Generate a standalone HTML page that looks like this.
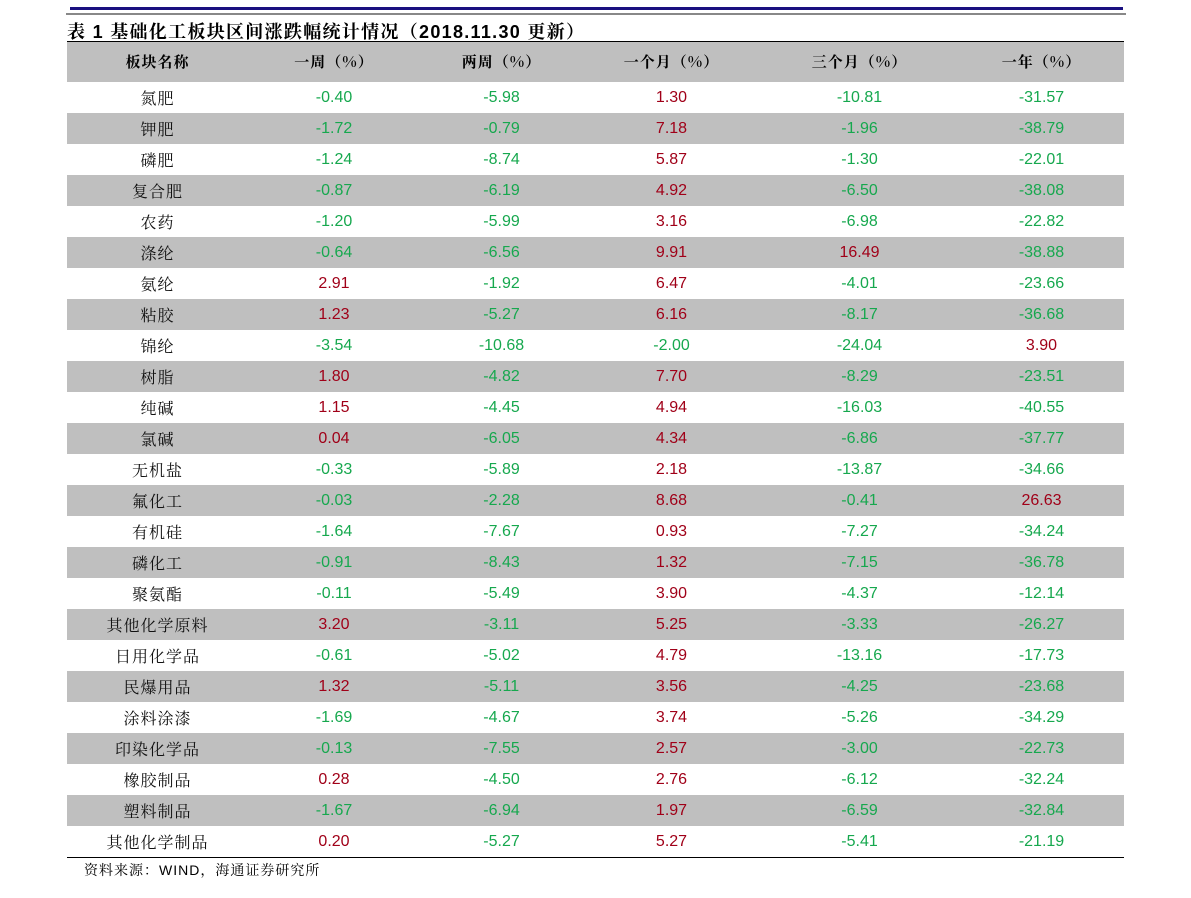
<!DOCTYPE html>
<html><head><meta charset="utf-8">
<style>
html,body{margin:0;padding:0;background:#fff;}
body{width:1191px;height:898px;position:relative;overflow:hidden;font-family:"Liberation Sans","Noto Sans CJK SC",sans-serif;}
.blue{position:absolute;left:70px;top:7px;width:1053px;height:3px;background:#1a1080;}
.grayl{position:absolute;left:66px;top:13px;width:1060px;height:2px;background:#888;}
.title{position:absolute;left:67px;top:18px;font-size:18px;letter-spacing:1.3px;font-weight:bold;font-family:"Liberation Sans","Noto Serif CJK SC",serif;white-space:nowrap;}
.tl{position:absolute;left:67px;top:41px;width:1057px;height:1px;background:#000;}
table{position:absolute;left:67px;top:42px;width:1057px;border-collapse:collapse;table-layout:fixed;}
td{padding:0;text-align:center;height:31px;font-size:16px;}
tr.h td{height:38px;background:#bfbfbf;font-family:"Noto Serif CJK SC",serif;font-weight:bold;font-size:15px;letter-spacing:1px;padding-bottom:2px;}
tr.g td{background:#bfbfbf;}
td.n{font-family:"Noto Serif CJK SC",serif;font-size:16px;letter-spacing:1px;color:#111;}
.r{color:#a00018;}
.gr{color:#16a84e;}
.bl{position:absolute;left:67px;top:857px;width:1057px;height:1px;background:#000;}
.src{position:absolute;left:84px;top:860px;font-size:14px;letter-spacing:1px;font-family:"Liberation Sans","Noto Serif CJK SC",serif;}
</style></head><body>
<div class="blue"></div><div class="grayl"></div>
<div class="title">表 1 基础化工板块区间涨跌幅统计情况（2018.11.30 更新）</div>
<div class="tl"></div>
<table>
<colgroup><col style="width:181px"><col style="width:172px"><col style="width:163px"><col style="width:177px"><col style="width:199px"><col style="width:165px"></colgroup>
<tr class="h"><td>板块名称</td><td>一周（%）</td><td>两周（%）</td><td>一个月（%）</td><td>三个月（%）</td><td>一年（%）</td></tr>
<tr><td class="n">氮肥</td><td class="gr">-0.40</td><td class="gr">-5.98</td><td class="r">1.30</td><td class="gr">-10.81</td><td class="gr">-31.57</td></tr>
<tr class="g"><td class="n">钾肥</td><td class="gr">-1.72</td><td class="gr">-0.79</td><td class="r">7.18</td><td class="gr">-1.96</td><td class="gr">-38.79</td></tr>
<tr><td class="n">磷肥</td><td class="gr">-1.24</td><td class="gr">-8.74</td><td class="r">5.87</td><td class="gr">-1.30</td><td class="gr">-22.01</td></tr>
<tr class="g"><td class="n">复合肥</td><td class="gr">-0.87</td><td class="gr">-6.19</td><td class="r">4.92</td><td class="gr">-6.50</td><td class="gr">-38.08</td></tr>
<tr><td class="n">农药</td><td class="gr">-1.20</td><td class="gr">-5.99</td><td class="r">3.16</td><td class="gr">-6.98</td><td class="gr">-22.82</td></tr>
<tr class="g"><td class="n">涤纶</td><td class="gr">-0.64</td><td class="gr">-6.56</td><td class="r">9.91</td><td class="r">16.49</td><td class="gr">-38.88</td></tr>
<tr><td class="n">氨纶</td><td class="r">2.91</td><td class="gr">-1.92</td><td class="r">6.47</td><td class="gr">-4.01</td><td class="gr">-23.66</td></tr>
<tr class="g"><td class="n">粘胶</td><td class="r">1.23</td><td class="gr">-5.27</td><td class="r">6.16</td><td class="gr">-8.17</td><td class="gr">-36.68</td></tr>
<tr><td class="n">锦纶</td><td class="gr">-3.54</td><td class="gr">-10.68</td><td class="gr">-2.00</td><td class="gr">-24.04</td><td class="r">3.90</td></tr>
<tr class="g"><td class="n">树脂</td><td class="r">1.80</td><td class="gr">-4.82</td><td class="r">7.70</td><td class="gr">-8.29</td><td class="gr">-23.51</td></tr>
<tr><td class="n">纯碱</td><td class="r">1.15</td><td class="gr">-4.45</td><td class="r">4.94</td><td class="gr">-16.03</td><td class="gr">-40.55</td></tr>
<tr class="g"><td class="n">氯碱</td><td class="r">0.04</td><td class="gr">-6.05</td><td class="r">4.34</td><td class="gr">-6.86</td><td class="gr">-37.77</td></tr>
<tr><td class="n">无机盐</td><td class="gr">-0.33</td><td class="gr">-5.89</td><td class="r">2.18</td><td class="gr">-13.87</td><td class="gr">-34.66</td></tr>
<tr class="g"><td class="n">氟化工</td><td class="gr">-0.03</td><td class="gr">-2.28</td><td class="r">8.68</td><td class="gr">-0.41</td><td class="r">26.63</td></tr>
<tr><td class="n">有机硅</td><td class="gr">-1.64</td><td class="gr">-7.67</td><td class="r">0.93</td><td class="gr">-7.27</td><td class="gr">-34.24</td></tr>
<tr class="g"><td class="n">磷化工</td><td class="gr">-0.91</td><td class="gr">-8.43</td><td class="r">1.32</td><td class="gr">-7.15</td><td class="gr">-36.78</td></tr>
<tr><td class="n">聚氨酯</td><td class="gr">-0.11</td><td class="gr">-5.49</td><td class="r">3.90</td><td class="gr">-4.37</td><td class="gr">-12.14</td></tr>
<tr class="g"><td class="n">其他化学原料</td><td class="r">3.20</td><td class="gr">-3.11</td><td class="r">5.25</td><td class="gr">-3.33</td><td class="gr">-26.27</td></tr>
<tr><td class="n">日用化学品</td><td class="gr">-0.61</td><td class="gr">-5.02</td><td class="r">4.79</td><td class="gr">-13.16</td><td class="gr">-17.73</td></tr>
<tr class="g"><td class="n">民爆用品</td><td class="r">1.32</td><td class="gr">-5.11</td><td class="r">3.56</td><td class="gr">-4.25</td><td class="gr">-23.68</td></tr>
<tr><td class="n">涂料涂漆</td><td class="gr">-1.69</td><td class="gr">-4.67</td><td class="r">3.74</td><td class="gr">-5.26</td><td class="gr">-34.29</td></tr>
<tr class="g"><td class="n">印染化学品</td><td class="gr">-0.13</td><td class="gr">-7.55</td><td class="r">2.57</td><td class="gr">-3.00</td><td class="gr">-22.73</td></tr>
<tr><td class="n">橡胶制品</td><td class="r">0.28</td><td class="gr">-4.50</td><td class="r">2.76</td><td class="gr">-6.12</td><td class="gr">-32.24</td></tr>
<tr class="g"><td class="n">塑料制品</td><td class="gr">-1.67</td><td class="gr">-6.94</td><td class="r">1.97</td><td class="gr">-6.59</td><td class="gr">-32.84</td></tr>
<tr><td class="n">其他化学制品</td><td class="r">0.20</td><td class="gr">-5.27</td><td class="r">5.27</td><td class="gr">-5.41</td><td class="gr">-21.19</td></tr>
</table>
<div class="bl"></div>
<div class="src">资料来源：WIND，海通证券研究所</div>
</body></html>
